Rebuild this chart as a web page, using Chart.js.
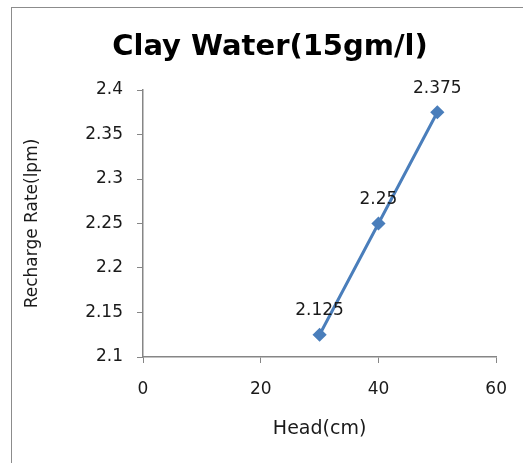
<!DOCTYPE html>
<html>
<head>
<meta charset="utf-8">
<script src="https://cdn.jsdelivr.net/npm/chart.js@4"></script>
<style>
    html, body { margin: 0; padding: 0; background: #fff; }
    #wrap { position: relative; width: 523px; height: 463px; }
    #frame {
        position: absolute; left: 11px; top: 7px; right: -5px; bottom: -5px;
        border-top: 1.5px solid #8c8c8c; border-left: 1.5px solid #8c8c8c;
    }
    canvas { position: absolute; left: 0; top: 0; }
</style>
</head>
<body>
<div id="wrap">
    <div id="frame"></div>
    <canvas id="chart" width="523" height="463"></canvas>
</div>
<script>
// Datos
const chartTitle = 'Clay Water(15gm/l)';
const heads = [30, 40, 50];
const rates = [2.125, 2.25, 2.375];
const rateLabels = ['2.125', '2.25', '2.375'];

const FONT = "'DejaVu Sans', sans-serif";
const AXIS_COLOR = '#868686';
const TEXT_COLOR = '#1a1a1a';

// Título y etiquetas de datos
const chartText = {
    id: 'chartText',
    afterDatasetsDraw(chart) {
        const ctx = chart.ctx;
        const meta = chart.getDatasetMeta(0);
        ctx.save();
        ctx.font = '17px ' + FONT;
        ctx.fillStyle = TEXT_COLOR;
        ctx.textAlign = 'center';
        ctx.textBaseline = 'middle';
        meta.data.forEach((pt, i) => {
            ctx.fillText(rateLabels[i], pt.x, pt.y - 24);
        });
        ctx.font = 'bold 29px ' + FONT;
        ctx.fillStyle = '#000';
        ctx.textBaseline = 'alphabetic';
        ctx.fillText(chartTitle, 270, 55);
        ctx.restore();
    }
};

new Chart(document.getElementById('chart'), {
    type: 'scatter',
    data: {
        datasets: [{
            label: 'Recharge Rate',
            data: heads.map((h, i) => ({ x: h, y: rates[i] })),
            showLine: true,
            borderColor: '#4a7ebb',
            backgroundColor: '#4a7ebb',
            borderWidth: 3,
            pointStyle: 'rectRot',
            pointRadius: 5,
            pointHoverRadius: 5
        }]
    },
    options: {
        responsive: false,
        animation: false,
        layout: { padding: { left: 0, right: 26, top: 90, bottom: 0 } },
        plugins: {
            legend: { display: false },
            tooltip: { enabled: false },
            title: { display: false }
        },
        scales: {
            x: {
                type: 'linear',
                min: 0,
                max: 60,
                ticks: {
                    stepSize: 20,
                    color: TEXT_COLOR,
                    font: { family: FONT, size: 17 },
                    padding: 16
                },
                grid: { drawOnChartArea: false, color: AXIS_COLOR, tickLength: 6 },
                border: { color: AXIS_COLOR, width: 1.5 },
                title: {
                    display: true,
                    text: 'Head(cm)',
                    color: TEXT_COLOR,
                    font: { family: FONT, size: 19 },
                    padding: { top: 0, bottom: 22.6 }
                },
                afterFit(scale) { scale.height = 106; }
            },
            y: {
                min: 2.1,
                max: 2.4,
                ticks: {
                    stepSize: 0.05,
                    color: TEXT_COLOR,
                    font: { family: FONT, size: 17 },
                    padding: 14,
                    callback: v => String(+v.toFixed(3))
                },
                grid: { drawOnChartArea: false, color: AXIS_COLOR, tickLength: 6 },
                border: { color: AXIS_COLOR, width: 1.5 },
                title: {
                    display: true,
                    text: 'Recharge Rate(lpm)',
                    color: TEXT_COLOR,
                    font: { family: FONT, size: 17 },
                    padding: { top: 22.8, bottom: 0 }
                },
                afterFit(scale) { scale.width = 143; }
            }
        }
    },
    plugins: [chartText]
});
</script>
</body>
</html>
